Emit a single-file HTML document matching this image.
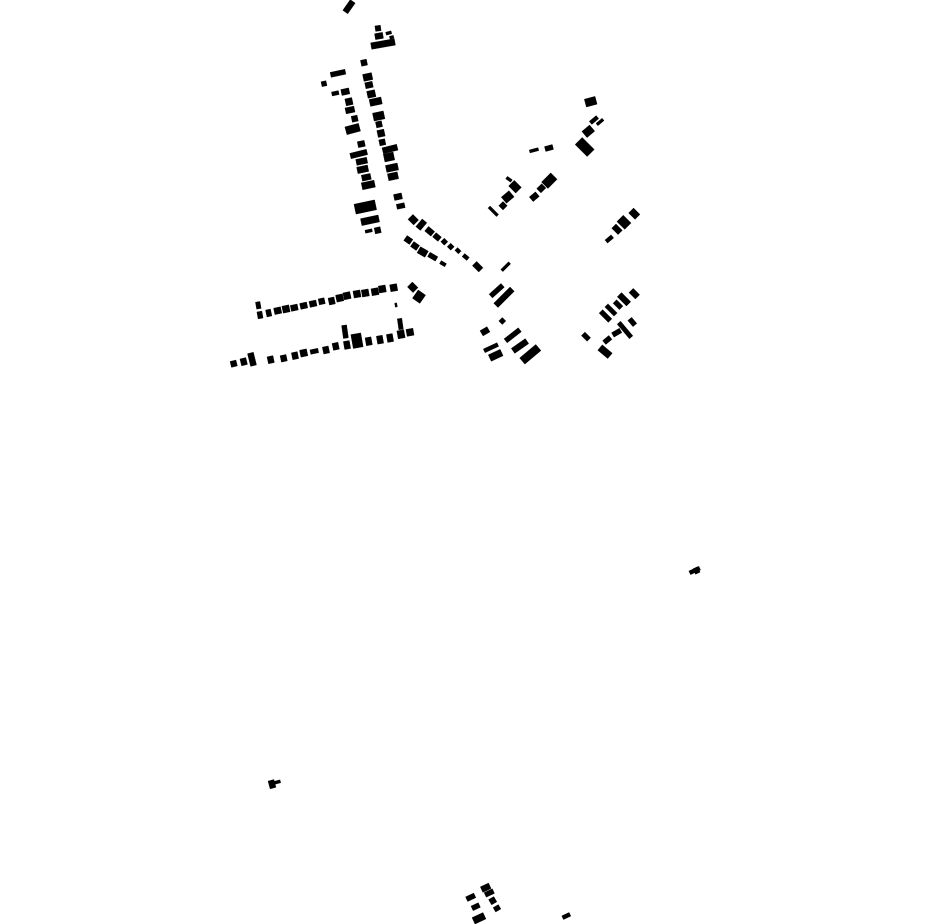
<!DOCTYPE html>
<html><head><meta charset="utf-8"><style>html,body{margin:0;padding:0;background:#fff}svg{display:block}</style></head><body>
<svg width="930" height="924" viewBox="0 0 930 924" xmlns="http://www.w3.org/2000/svg" fill="#000" stroke="#000" stroke-width=".4">
<rect transform="translate(349 6.7) rotate(-55)" x="-6.5" y="-3" width="13" height="6"/>
<rect transform="translate(378 28.3) rotate(-8)" x="-2.75" y="-2.75" width="5.5" height="5.5"/>
<rect transform="translate(379 36) rotate(-10)" x="-4" y="-3" width="8" height="6"/>
<rect transform="translate(388.7 33) rotate(-15)" x="-2.75" y="-1.5" width="5.5" height="3"/>
<rect transform="translate(391.7 37.3) rotate(-15)" x="-2" y="-1.5" width="4" height="3"/>
<rect transform="translate(383 44) rotate(-10)" x="-12" y="-3.25" width="24" height="6.5"/>
<rect transform="translate(364 62.7) rotate(-12)" x="-3" y="-3" width="6" height="6"/>
<rect transform="translate(338 73.3) rotate(-12)" x="-7.5" y="-2.5" width="15" height="5"/>
<rect transform="translate(324 83.7) rotate(-12)" x="-2.5" y="-2.5" width="5" height="5"/>
<rect transform="translate(335.3 93.3) rotate(-12)" x="-3.5" y="-2" width="7" height="4"/>
<rect transform="translate(345.3 91.7) rotate(-12)" x="-4" y="-3" width="8" height="6"/>
<rect transform="translate(367.7 77) rotate(-12)" x="-4.5" y="-3.5" width="9" height="7"/>
<rect transform="translate(369 85) rotate(-12)" x="-3.75" y="-3" width="7.5" height="6"/>
<rect transform="translate(371.3 94) rotate(-12)" x="-4" y="-3.5" width="8" height="7"/>
<rect transform="translate(375.7 101.7) rotate(-12)" x="-6" y="-3.5" width="12" height="7"/>
<rect transform="translate(349 101.7) rotate(-12)" x="-3.5" y="-3.5" width="7" height="7"/>
<rect transform="translate(350 110) rotate(-12)" x="-4.5" y="-3" width="9" height="6"/>
<rect transform="translate(354.7 118.7) rotate(-12)" x="-3" y="-3" width="6" height="6"/>
<rect transform="translate(378.7 116) rotate(-12)" x="-5.5" y="-4" width="11" height="8"/>
<rect transform="translate(379 124.3) rotate(-12)" x="-3" y="-3" width="6" height="6"/>
<rect transform="translate(352.7 129) rotate(-15)" x="-7" y="-4" width="14" height="8"/>
<rect transform="translate(381 133.3) rotate(-12)" x="-3.5" y="-3.5" width="7" height="7"/>
<rect transform="translate(382.3 142.3) rotate(-12)" x="-3" y="-3" width="6" height="6"/>
<rect transform="translate(361.3 144) rotate(-12)" x="-3.5" y="-3" width="7" height="6"/>
<rect transform="translate(390 149) rotate(-14)" x="-7.5" y="-3" width="15" height="6"/>
<rect transform="translate(358.7 154) rotate(-14)" x="-8.5" y="-2.75" width="17" height="5.5"/>
<rect transform="translate(389 157) rotate(-12)" x="-5" y="-4" width="10" height="8"/>
<rect transform="translate(361.7 161.3) rotate(-12)" x="-5.5" y="-3" width="11" height="6"/>
<rect transform="translate(362.7 169.3) rotate(-12)" x="-5.5" y="-3.25" width="11" height="6.5"/>
<rect transform="translate(392 167.7) rotate(-12)" x="-6" y="-3.5" width="12" height="7"/>
<rect transform="translate(393 176.3) rotate(-12)" x="-5" y="-3.5" width="10" height="7"/>
<rect transform="translate(366.3 177.3) rotate(-12)" x="-4.5" y="-3" width="9" height="6"/>
<rect transform="translate(368.3 185) rotate(-12)" x="-6.5" y="-3.5" width="13" height="7"/>
<rect transform="translate(398 196.7) rotate(-12)" x="-4" y="-3" width="8" height="6"/>
<rect transform="translate(400.7 206) rotate(-12)" x="-4" y="-2.5" width="8" height="5"/>
<rect transform="translate(365.3 207) rotate(-12)" x="-10.5" y="-5" width="21" height="10"/>
<rect transform="translate(370 220.3) rotate(-12)" x="-9" y="-3.5" width="18" height="7"/>
<rect transform="translate(368.7 231) rotate(-12)" x="-3.5" y="-1.5" width="7" height="3"/>
<rect transform="translate(377.7 230.3) rotate(-12)" x="-3" y="-3" width="6" height="6"/>
<rect transform="translate(413.3 219.7) rotate(45)" x="-4" y="-3.5" width="8" height="7"/>
<rect transform="translate(421.3 224.7) rotate(-50)" x="-5" y="-3" width="10" height="6"/>
<rect transform="translate(429.7 231.3) rotate(40)" x="-4" y="-3" width="8" height="6"/>
<rect transform="translate(437 237) rotate(40)" x="-3.5" y="-2.75" width="7" height="5.5"/>
<rect transform="translate(444.3 241.7) rotate(45)" x="-2.5" y="-2.5" width="5" height="5"/>
<rect transform="translate(450.7 246.7) rotate(45)" x="-2.5" y="-2.5" width="5" height="5"/>
<rect transform="translate(458 250.7) rotate(45)" x="-2.5" y="-2" width="5" height="4"/>
<rect transform="translate(465.7 257) rotate(40)" x="-3" y="-2" width="6" height="4"/>
<rect transform="translate(477.7 266.7) rotate(45)" x="-4.5" y="-3" width="9" height="6"/>
<rect transform="translate(408.3 240) rotate(35)" x="-3.5" y="-3" width="7" height="6"/>
<rect transform="translate(415 246) rotate(35)" x="-3.5" y="-3" width="7" height="6"/>
<rect transform="translate(422.7 252) rotate(30)" x="-4.5" y="-3.5" width="9" height="7"/>
<rect transform="translate(432.7 256.7) rotate(30)" x="-4.5" y="-2.5" width="9" height="5"/>
<rect transform="translate(443 263.7) rotate(30)" x="-3" y="-1.75" width="6" height="3.5"/>
<rect transform="translate(505.7 266.7) rotate(-45)" x="-5.5" y="-1.5" width="11" height="3"/>
<rect transform="translate(493.3 211.3) rotate(45)" x="-6" y="-1.5" width="12" height="3"/>
<rect transform="translate(258.3 305.3) rotate(-10)" x="-2.25" y="-3.5" width="4.5" height="7"/>
<rect transform="translate(260 315) rotate(-10)" x="-2.5" y="-3.5" width="5" height="7"/>
<rect transform="translate(268.7 313) rotate(-12)" x="-2.5" y="-3.5" width="5" height="7"/>
<rect transform="translate(277.7 310.7) rotate(-12)" x="-3.5" y="-3.25" width="7" height="6.5"/>
<rect transform="translate(286 309) rotate(-12)" x="-3.5" y="-3.5" width="7" height="7"/>
<rect transform="translate(294.3 307.7) rotate(-12)" x="-3.5" y="-3" width="7" height="6"/>
<rect transform="translate(303.7 305.7) rotate(-12)" x="-3.5" y="-3" width="7" height="6"/>
<rect transform="translate(313 303.7) rotate(-12)" x="-3.5" y="-3" width="7" height="6"/>
<rect transform="translate(321.7 301.3) rotate(-12)" x="-3" y="-3" width="6" height="6"/>
<rect transform="translate(331.7 301) rotate(-12)" x="-3" y="-3.5" width="6" height="7"/>
<rect transform="translate(339.7 298) rotate(-12)" x="-3.5" y="-3.5" width="7" height="7"/>
<rect transform="translate(347 295.7) rotate(-12)" x="-3.5" y="-3.5" width="7" height="7"/>
<rect transform="translate(357 294) rotate(-10)" x="-3.5" y="-3.5" width="7" height="7"/>
<rect transform="translate(365.3 293) rotate(-10)" x="-3.5" y="-3.5" width="7" height="7"/>
<rect transform="translate(375 291.7) rotate(-10)" x="-3.5" y="-3.5" width="7" height="7"/>
<rect transform="translate(382.3 289) rotate(-10)" x="-3.5" y="-3.5" width="7" height="7"/>
<rect transform="translate(393.7 287.7) rotate(-10)" x="-3.5" y="-3.5" width="7" height="7"/>
<rect transform="translate(412.7 287.3) rotate(45)" x="-4" y="-3.5" width="8" height="7"/>
<rect transform="translate(419 296.7) rotate(35)" x="-4.5" y="-5" width="9" height="10"/>
<rect transform="translate(396 305) rotate(-10)" x="-1" y="-2" width="2" height="4"/>
<rect transform="translate(345 331.7) rotate(-8)" x="-2.5" y="-6.5" width="5" height="13"/>
<rect transform="translate(400.3 324) rotate(-8)" x="-2.25" y="-5.5" width="4.5" height="11"/>
<rect transform="translate(233.7 363.7) rotate(-14)" x="-3" y="-3" width="6" height="6"/>
<rect transform="translate(243.7 361.7) rotate(-14)" x="-3" y="-3.5" width="6" height="7"/>
<rect transform="translate(252 359.3) rotate(-14)" x="-3" y="-6.5" width="6" height="13"/>
<rect transform="translate(270.7 359.7) rotate(-12)" x="-3" y="-3.5" width="6" height="7"/>
<rect transform="translate(283.7 358.3) rotate(-12)" x="-3" y="-3.25" width="6" height="6.5"/>
<rect transform="translate(295 355.7) rotate(-12)" x="-3" y="-3.5" width="6" height="7"/>
<rect transform="translate(303.7 353) rotate(-12)" x="-3.5" y="-3.5" width="7" height="7"/>
<rect transform="translate(314.3 351.3) rotate(-12)" x="-4" y="-2.25" width="8" height="4.5"/>
<rect transform="translate(326 350) rotate(-12)" x="-3" y="-3.5" width="6" height="7"/>
<rect transform="translate(335.7 346.3) rotate(-12)" x="-3" y="-3.5" width="6" height="7"/>
<rect transform="translate(347 345) rotate(-10)" x="-3" y="-4" width="6" height="8"/>
<rect transform="translate(357 340.7) rotate(-10)" x="-5" y="-7" width="10" height="14"/>
<rect transform="translate(368.7 341.3) rotate(-10)" x="-3" y="-4" width="6" height="8"/>
<rect transform="translate(380 339.7) rotate(-10)" x="-3" y="-4" width="6" height="8"/>
<rect transform="translate(390 338) rotate(-10)" x="-3" y="-4" width="6" height="8"/>
<rect transform="translate(401 334.3) rotate(-10)" x="-3.5" y="-4" width="7" height="8"/>
<rect transform="translate(410 332.3) rotate(-10)" x="-3.5" y="-3.5" width="7" height="7"/>
<rect transform="translate(496.7 290.7) rotate(-42)" x="-8" y="-2.5" width="16" height="5"/>
<rect transform="translate(504 297.3) rotate(-45)" x="-11.5" y="-3" width="23" height="6"/>
<rect transform="translate(502.3 321) rotate(45)" x="-2.5" y="-2.5" width="5" height="5"/>
<rect transform="translate(485 331.3) rotate(-30)" x="-4" y="-3" width="8" height="6"/>
<rect transform="translate(512.7 335.3) rotate(-38)" x="-9" y="-2.5" width="18" height="5"/>
<rect transform="translate(491 347.7) rotate(-25)" x="-7.5" y="-2" width="15" height="4"/>
<rect transform="translate(520 346) rotate(-35)" x="-8.5" y="-3" width="17" height="6"/>
<rect transform="translate(495.7 355.3) rotate(-25)" x="-6.5" y="-3.5" width="13" height="7"/>
<rect transform="translate(530.3 354.3) rotate(-40)" x="-10.5" y="-4" width="21" height="8"/>
<rect transform="translate(634.3 213.7) rotate(45)" x="-4.5" y="-3.5" width="9" height="7"/>
<rect transform="translate(624 222.3) rotate(45)" x="-5.5" y="-4.5" width="11" height="9"/>
<rect transform="translate(617 229.3) rotate(45)" x="-4.5" y="-3" width="9" height="6"/>
<rect transform="translate(609.3 239) rotate(-40)" x="-4" y="-2" width="8" height="4"/>
<rect transform="translate(634.3 293.7) rotate(45)" x="-4.5" y="-3" width="9" height="6"/>
<rect transform="translate(624 299.3) rotate(45)" x="-6.5" y="-3" width="13" height="6"/>
<rect transform="translate(618 304.7) rotate(45)" x="-4.5" y="-2.5" width="9" height="5"/>
<rect transform="translate(611 310) rotate(45)" x="-6.5" y="-2.25" width="13" height="4.5"/>
<rect transform="translate(605.5 316) rotate(45)" x="-6.5" y="-2.5" width="13" height="5"/>
<rect transform="translate(632.3 322) rotate(50)" x="-4" y="-2.5" width="8" height="5"/>
<rect transform="translate(625 330) rotate(50)" x="-9.5" y="-2.25" width="19" height="4.5"/>
<rect transform="translate(616.7 332.7) rotate(-30)" x="-4.5" y="-2.5" width="9" height="5"/>
<rect transform="translate(607.3 340) rotate(-40)" x="-4" y="-2.5" width="8" height="5"/>
<rect transform="translate(586 336.7) rotate(45)" x="-4" y="-2.5" width="8" height="5"/>
<rect transform="translate(605 351.7) rotate(40)" x="-6.5" y="-3.5" width="13" height="7"/>
<rect transform="translate(590.7 101.7) rotate(-15)" x="-5.5" y="-4" width="11" height="8"/>
<rect transform="translate(594 120) rotate(-40)" x="-4.5" y="-2" width="9" height="4"/>
<rect transform="translate(600 122) rotate(-40)" x="-4" y="-1.5" width="8" height="3"/>
<rect transform="translate(588.3 131.3) rotate(-40)" x="-5" y="-4" width="10" height="8"/>
<rect transform="translate(584.7 147) rotate(45)" x="-8.5" y="-5" width="17" height="10"/>
<rect transform="translate(534 150.3) rotate(-15)" x="-4.5" y="-1.5" width="9" height="3"/>
<rect transform="translate(549 148) rotate(-15)" x="-4" y="-2.5" width="8" height="5"/>
<rect transform="translate(509 179.3) rotate(35)" x="-3" y="-1.5" width="6" height="3"/>
<rect transform="translate(515 186.7) rotate(45)" x="-5" y="-4" width="10" height="8"/>
<rect transform="translate(507.7 197) rotate(-40)" x="-5" y="-4" width="10" height="8"/>
<rect transform="translate(503 205.7) rotate(-45)" x="-3" y="-3" width="6" height="6"/>
<rect transform="translate(549.3 180.7) rotate(-45)" x="-6.5" y="-4.5" width="13" height="9"/>
<rect transform="translate(541.3 188.3) rotate(-45)" x="-3.5" y="-3" width="7" height="6"/>
<rect transform="translate(534.3 196.7) rotate(-40)" x="-4" y="-3" width="8" height="6"/>
<rect transform="translate(470.7 897.3) rotate(-25)" x="-4.5" y="-2.5" width="9" height="5"/>
<rect transform="translate(485.7 887.7) rotate(-25)" x="-4.5" y="-3" width="9" height="6"/>
<rect transform="translate(489.3 893) rotate(-25)" x="-4.5" y="-2.5" width="9" height="5"/>
<rect transform="translate(492.7 900.7) rotate(-30)" x="-3" y="-3" width="6" height="6"/>
<rect transform="translate(497 908.3) rotate(-30)" x="-3" y="-2.5" width="6" height="5"/>
<rect transform="translate(475.7 906.7) rotate(-25)" x="-4" y="-2.5" width="8" height="5"/>
<rect transform="translate(479 918.3) rotate(-25)" x="-6" y="-3.5" width="12" height="7"/>
<rect transform="translate(566.3 916) rotate(-25)" x="-4" y="-2" width="8" height="4"/>
<rect transform="translate(694.7 570.5) rotate(-25)" x="-5.5" y="-2" width="11" height="4"/>
<rect transform="translate(696.5 570.5) rotate(-25)" x="-2.5" y="-3" width="5" height="6"/>
<rect transform="translate(275 782.7) rotate(-15)" x="-5.5" y="-1.5" width="11" height="3"/>
<rect transform="translate(272 784.2) rotate(-15)" x="-3" y="-4" width="6" height="8"/>
</svg>
</body></html>
